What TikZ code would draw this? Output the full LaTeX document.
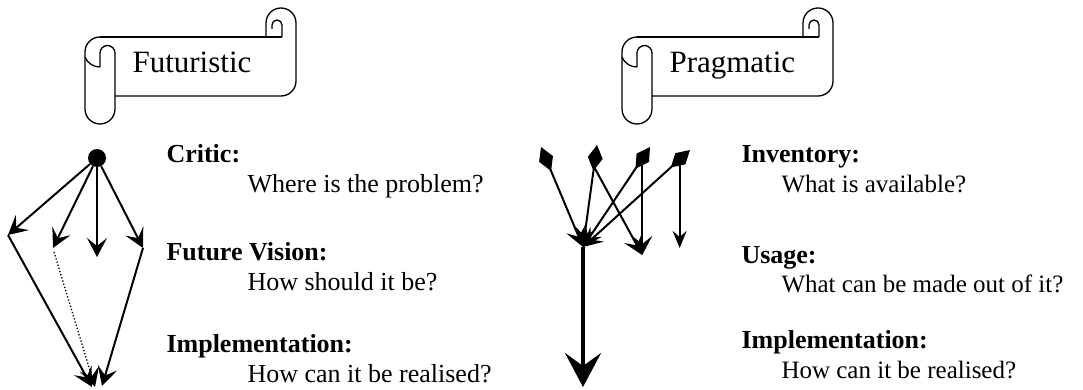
\documentclass[tikz,border=0pt]{standalone}
\usepackage{fontspec}
\setmainfont{Liberation Serif}
\usetikzlibrary{arrows.meta, calc}

\tikzset{
  arr/.style={line width=2pt, -{Stealth[length=19pt,width=20pt,inset=8pt]}},
  bigarr/.style={line width=3.2pt, -{Stealth[length=34pt,width=36pt,inset=13pt]}},
  tail/.style={line width=2pt, {Diamond[length=26pt,width=15pt]}-{Stealth[length=19pt,width=20pt,inset=8pt]}},
  dot/.style={circle, fill, inner sep=0pt, minimum size=18pt},
  head/.style={anchor=base west, font=\fontsize{26}{30}\selectfont\bfseries},
  ques/.style={anchor=base west, font=\fontsize{26}{30}\selectfont},
  pics/banner/.style={code={
    \begin{scope}[line width=1.3pt, line join=round]
      % left roll
      \draw (15,0) arc[start angle=90,end angle=180,radius=15] -- (0,-72)
        arc[start angle=180,end angle=360,radius=15] -- (30,-16)
        arc[start angle=0,end angle=180,radius=7.5] -- (15,-30);
      \draw (0,-20) .. controls (3,-27) and (9,-30) .. (15,-30);
      % band and right roll
      \draw (15,0) -- (197,0);
      \draw (181,0) -- (181,14) arc[start angle=180,end angle=0,radius=15] -- (211,-44)
        arc[start angle=0,end angle=-90,radius=15] -- (30,-59);
      \draw (197,0) -- (197,12) arc[start angle=0,end angle=180,radius=5] -- (187,8);
    \end{scope}
    \node[anchor=base west, font=\fontsize{31}{36}\selectfont] (-title) at (44,-36) {#1};
  }}
}

\begin{document}
\begin{tikzpicture}[x=1pt, y=1pt]
\useasboundingbox (0,0) rectangle (1083,-390);

% scrolls
\pic (fut) at (85,-37) {banner=Futuristic};
\pic (prag) at (622,-37) {banner=Pragmatic};

% futuristic fan
\node[dot] (src) at (97,-158) {};
\coordinate (c1) at (8,-235);
\coordinate (c2) at (53,-248);
\coordinate (c3) at (97,-257);
\coordinate (c4) at (143,-248);
\coordinate (c2s) at (54,-252);
\coordinate (s1) at (92,-387);
\coordinate (s2) at (95,-387);
\coordinate (s3) at (102,-386);
\foreach \c in {c1,c2,c3,c4}
  \draw[arr] (src) -- (\c);
\draw[arr] (c1) -- (s1);
\draw[arr, line width=1.3pt, dotted] (c2s) -- (s2);
\draw[arr] (c4) -- (s3);

\node[head] (crit) at (163,-163) {Critic:};
\node[ques] (critq) at (244,-193) {Where is the problem?};
\node[head] (vis) at (163,-260) {Future Vision:};
\node[ques] (visq) at (244,-290) {How should it be?};
\node[head] (implf) at (163,-352) {Implementation:};
\node[ques] (implfq) at (244,-382) {How can it be realised?};

% pragmatic gathering
\coordinate (conv) at (583,-247);
\coordinate (bot) at (583,-387);
\coordinate (t1) at (541,-147);
\coordinate (t2) at (597,-145);
\coordinate (t3) at (650,-147);
\coordinate (t4) at (690,-150);
\foreach \t in {t1,t2,t3,t4}
  \draw[tail] (\t) -- (conv);
\coordinate (m2) at ($(t2)!22pt!(conv)$);
\coordinate (m3) at ($(t3)!14pt!(conv)$);
\coordinate (m4) at ($(t4)!14pt!(conv)$);
\coordinate (e3) at (m3 |- 0,-255);
\coordinate (e4) at (m4 |- 0,-248);
\draw[arr] (m2) -- (e3);
\draw[arr] (m3) -- (e3);
\draw[arr, -{Stealth[length=17pt,width=14pt,inset=6pt]}] (m4) -- (e4);
\draw[bigarr] (conv) -- (bot);

\node[head] (inv) at (738,-163) {Inventory:};
\node[ques, font=\fontsize{25}{30}\selectfont] (invq) at (778,-193) {What is available?};
\node[head] (use) at (738,-263) {Usage:};
\node[ques, font=\fontsize{25}{30}\selectfont] (useq) at (778,-292) {What can be made out of it?};
\node[head] (implp) at (738,-348) {Implementation:};
\node[ques, font=\fontsize{25}{30}\selectfont] (implpq) at (778,-378) {How can it be realised?};
\end{tikzpicture}
\end{document}
